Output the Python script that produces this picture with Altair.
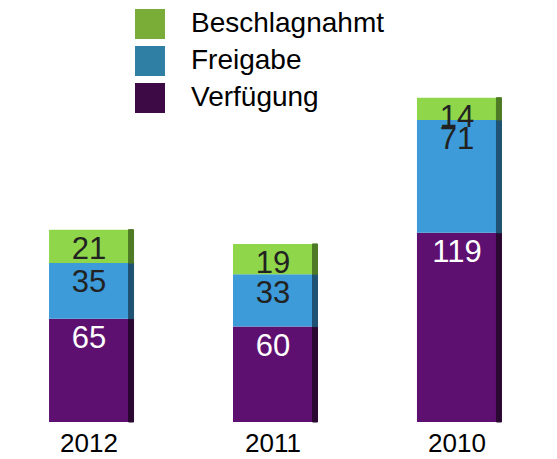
import altair as alt
import pandas as pd

years = ["2012", "2011", "2010"]
verfuegung = [65, 60, 119]
freigabe = [35, 33, 71]
beschlagnahmt = [21, 19, 14]

series = ["Beschlagnahmt", "Freigabe", "Verfügung"]
bar_colors = ["#8fd64a", "#3c9bd8", "#5e1070"]
side_colors = ["#4f7a25", "#1f5273", "#2a0832"]
legend_colors = ["#7aad38", "#2e7fa3", "#3d0a45"]
text_colors = ["#222222", "#222222", "#ffffff"]

rows = []
for i, y in enumerate(years):
    for s, vals, order in [("Verfügung", verfuegung, 1), ("Freigabe", freigabe, 2), ("Beschlagnahmt", beschlagnahmt, 3)]:
        rows.append({"year": y, "series": s, "value": vals[i], "order": order})
df = pd.DataFrame(rows)

FONT = "Liberation Sans"

x = alt.X("year:N", sort=years,
          scale=alt.Scale(paddingInner=0.565, paddingOuter=0.223),
          axis=alt.Axis(title=None, domain=False, ticks=False, labelAngle=0,
                        labelFontSize=26, labelFont=FONT, labelColor="#000000",
                        labelPadding=8))
yscale = alt.Scale(domain=[0, 260.4], nice=False)
yenc = alt.Y("value:Q", stack="zero", scale=yscale, axis=None)

base = alt.Chart(df)

bars = base.mark_bar(size=80).encode(
    x=x,
    y=yenc,
    order=alt.Order("order:Q"),
    color=alt.Color("series:N", scale=alt.Scale(domain=series, range=bar_colors), legend=None),
)

side = base.mark_bar(size=5, xOffset=42).encode(
    x=x,
    y=yenc,
    order=alt.Order("order:Q"),
    stroke=alt.Stroke("series:N", scale=alt.Scale(domain=series, range=side_colors), legend=None),
    fill=alt.Fill("series:N", scale=alt.Scale(domain=series, range=side_colors), legend=None),
)

labels = base.mark_text(baseline="top", dy=5, fontSize=31, font=FONT).encode(
    x=x,
    y=yenc,
    order=alt.Order("order:Q"),
    text="value:Q",
    color=alt.Color("series:N", scale=alt.Scale(domain=series, range=text_colors), legend=None),
)

legend_layer = base.mark_square(opacity=0, filled=True).encode(
    x=x,
    y=yenc,
    fill=alt.Fill("series:N", scale=alt.Scale(domain=series, range=legend_colors),
                  legend=alt.Legend(title=None, orient="none", legendX=127, legendY=1,
                                    symbolType="square", symbolSize=900, symbolOpacity=1,
                                    symbolStrokeWidth=0, labelLimit=0,
                                    labelFontSize=28, labelFont=FONT, labelColor="#000000",
                                    labelOffset=26, rowPadding=7, padding=0)),
)

chart = alt.layer(bars, side, labels, legend_layer).resolve_scale(
    color="independent", fill="independent", stroke="independent"
).properties(
    width=530, height=414, padding=0, background="white",
    autosize=alt.AutoSizeParams(type="pad")
).configure_view(stroke=None)

chart.save("out.html", embed_options={"renderer": "svg", "actions": False})
